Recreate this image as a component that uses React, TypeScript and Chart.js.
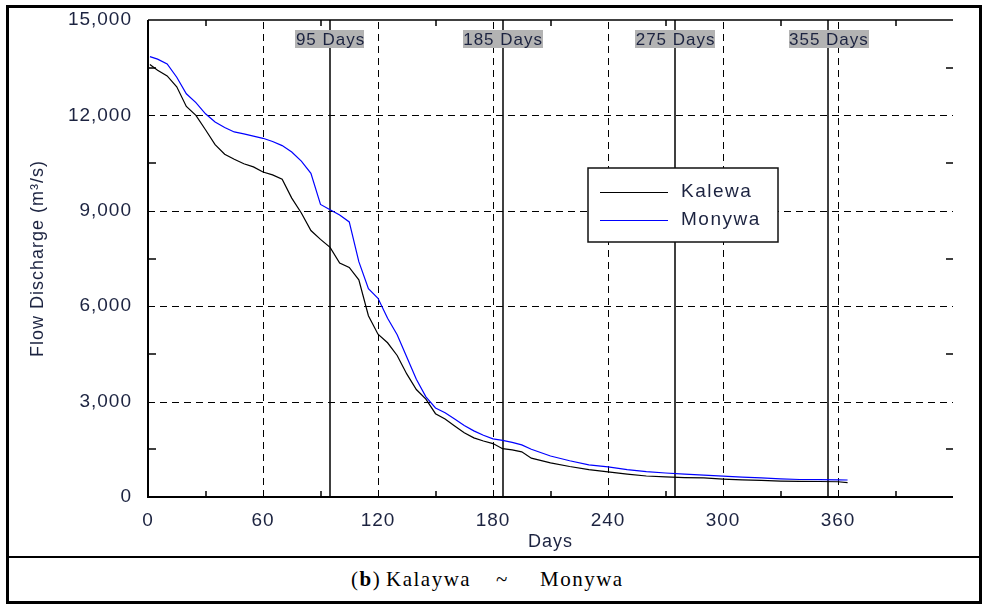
import React, { useEffect, useRef } from "react";
import { Chart, registerables } from "chart.js";

Chart.register(...registerables);

// ---- data ----
const days = [1, 5, 10, 15, 20, 25, 30, 35, 40, 45, 50, 55, 60, 65, 70, 75, 80, 85, 90, 95, 100, 105, 110, 115, 120, 125, 130, 135, 140, 145, 150, 155, 160, 165, 170, 175, 180, 185, 190, 195, 200, 210, 220, 230, 240, 250, 260, 270, 280, 290, 300, 310, 320, 330, 340, 350, 360, 365];
const kalewa = [13600, 13420, 13240, 12900, 12280, 12000, 11550, 11080, 10780, 10620, 10480, 10380, 10220, 10130, 9990, 9400, 8930, 8380, 8100, 7850, 7360, 7220, 6830, 5700, 5120, 4850, 4450, 3870, 3380, 3080, 2620, 2450, 2230, 2020, 1860, 1760, 1680, 1520, 1480, 1420, 1220, 1075, 960, 860, 790, 720, 660, 630, 610, 600, 565, 540, 520, 500, 492, 487, 480, 450];
const monywa = [13850, 13770, 13620, 13200, 12680, 12400, 12050, 11790, 11620, 11480, 11420, 11350, 11280, 11180, 11050, 10850, 10560, 10180, 9200, 9030, 8870, 8650, 7400, 6550, 6250, 5620, 5100, 4400, 3700, 3150, 2800, 2650, 2450, 2250, 2080, 1940, 1830, 1780, 1720, 1640, 1500, 1290, 1140, 1010, 950, 860, 800, 755, 720, 690, 655, 625, 600, 570, 550, 545, 540, 535];
const seriesNames = ["Kalewa", "Monywa"];
const seriesColors = ["#000000", "#0000ff"];
const markerDays = [95, 185, 275, 355];
const markerLabels = ["95 Days", "185 Days", "275 Days", "355 Days"];
const xMax = 420;
const xStep = 60;
const yMax = 15000;
const yStep = 3000;
const yAxisTitle = "Flow Discharge (m\u00b3/s)";
const xAxisTitle = "Days";
const captionParts = ["(b)", "Kalaywa", "~", "Monywa"];

const FONT = '"Liberation Sans", Arial, sans-serif';
const TEXT = "#1c2340";

function seg(ctx: CanvasRenderingContext2D, x1: number, y1: number, x2: number, y2: number) {
  ctx.beginPath();
  ctx.moveTo(x1, y1);
  ctx.lineTo(x2, y2);
  ctx.stroke();
}

const decorPlugin = {
  id: "decor",
  beforeDraw(chart: any) {
    chart.ctx.letterSpacing = "1px";
  },
  beforeDatasetsDraw(chart: any) {
    const { ctx, chartArea: a, scales } = chart;
    const x = scales.x, y = scales.y;
    ctx.save();
    ctx.strokeStyle = "#000";
    ctx.lineWidth = 1;
    ctx.setLineDash([7, 5]);
    for (let v = xStep; v < xMax; v += xStep) {
      const px = Math.round(x.getPixelForValue(v)) + 0.5;
      seg(ctx, px, a.bottom, px, a.top);
    }
    for (let v = yStep; v < yMax; v += yStep) {
      const py = Math.round(y.getPixelForValue(v)) + 0.5;
      seg(ctx, a.left, py, a.right, py);
    }
    ctx.setLineDash([]);
    ctx.lineWidth = 1.5;
    markerDays.forEach((d) => {
      const px = Math.round(x.getPixelForValue(d));
      seg(ctx, px, a.top, px, a.bottom);
    });
    ctx.restore();
  },
  afterDatasetsDraw(chart: any) {
    const { ctx, chartArea: a, scales } = chart;
    const x = scales.x, y = scales.y;
    ctx.save();
    ctx.strokeStyle = "#000";
    ctx.setLineDash([]);
    // frame
    ctx.lineWidth = 2;
    seg(ctx, a.left, a.top, a.left, a.bottom + 1);
    seg(ctx, a.left - 1, a.bottom, a.right, a.bottom);
    ctx.lineWidth = 1.5;
    seg(ctx, a.left, a.top, a.right, a.top);
    // minor ticks
    ctx.lineWidth = 1.5;
    for (let v = xStep / 2; v < xMax; v += xStep) {
      const px = Math.round(x.getPixelForValue(v));
      seg(ctx, px, a.bottom, px, a.bottom - 6);
      seg(ctx, px, a.top, px, a.top + 6);
    }
    for (let v = yStep / 2; v < yMax; v += yStep) {
      const py = Math.round(y.getPixelForValue(v));
      seg(ctx, a.left, py, a.left + 8, py);
      seg(ctx, a.right, py, a.right - 7, py);
    }
    // marker labels
    ctx.font = `17px ${FONT}`;
    ctx.letterSpacing = "1px";
    ctx.textBaseline = "middle";
    ctx.textAlign = "left";
    markerDays.forEach((d, i) => {
      const px = x.getPixelForValue(d);
      const w = ctx.measureText(markerLabels[i]).width;
      const top = a.top + 10;
      ctx.fillStyle = "#b3b3b3";
      ctx.fillRect(Math.round(px - w / 2), top, Math.round(w), 18);
      ctx.fillStyle = TEXT;
      ctx.fillText(markerLabels[i], px - w / 2 + 0.5, top + 10);
    });
    // legend
    const lx = a.left + 440, ly = a.top + 148, lw = 190, lh = 74;
    ctx.fillStyle = "#fff";
    ctx.fillRect(lx, ly, lw, lh);
    ctx.lineWidth = 1.5;
    ctx.strokeStyle = "#111";
    ctx.strokeRect(lx, ly, lw, lh);
    ctx.font = `19px ${FONT}`;
    ctx.letterSpacing = "1.5px";
    seriesNames.forEach((n, i) => {
      const yy = ly + 24 + i * 28;
      ctx.strokeStyle = seriesColors[i];
      ctx.lineWidth = 1.2;
      seg(ctx, lx + 12, yy + 0.5, lx + 80, yy + 0.5);
      ctx.fillStyle = TEXT;
      ctx.fillText(n, lx + 93, yy);
    });
    ctx.restore();
  },
  afterDraw(chart: any) {
    chart.ctx.letterSpacing = "0px";
  },
};

function ChartCanvas() {
  const ref = useRef<HTMLCanvasElement | null>(null);
  useEffect(() => {
    if (!ref.current) return;
    const mk = (vals: number[]) => days.map((d, i) => ({ x: d, y: vals[i] }));
    const chart = new Chart(ref.current, {
      type: "line",
      data: {
        datasets: [
          { label: seriesNames[0], data: mk(kalewa), borderColor: seriesColors[0], borderWidth: 1.2, pointRadius: 0, tension: 0, fill: false },
          { label: seriesNames[1], data: mk(monywa), borderColor: seriesColors[1], borderWidth: 1.2, pointRadius: 0, tension: 0, fill: false },
        ],
      },
      options: {
        responsive: false,
        animation: false,
        events: [],
        layout: { padding: { left: 0, right: 26, top: 12, bottom: 0 } },
        plugins: { legend: { display: false }, tooltip: { enabled: false } },
        scales: {
          x: {
            type: "linear",
            min: 0,
            max: xMax,
            afterFit: (s: any) => { s.height = 59; s.paddingLeft = 0; s.paddingRight = 0; },
            grid: { display: false, drawTicks: false },
            border: { display: false },
            ticks: {
              stepSize: xStep,
              autoSkip: false,
              maxRotation: 0,
              padding: 12,
              color: TEXT,
              font: { family: FONT, size: 19 },
              callback: (v: any) => (v >= xMax ? "" : String(v)),
            },
            title: { display: true, text: xAxisTitle, color: TEXT, font: { family: FONT, size: 18 }, padding: { top: 0, bottom: 3 } },
          },
          y: {
            type: "linear",
            min: 0,
            max: yMax,
            afterFit: (s: any) => { s.width = 139; s.paddingTop = 0; s.paddingBottom = 0; },
            grid: { display: false, drawTicks: false },
            border: { display: false },
            ticks: {
              stepSize: yStep,
              padding: 16,
              color: TEXT,
              font: { family: FONT, size: 19 },
              callback: (v: any) => Number(v).toLocaleString("en-US"),
            },
            title: { display: true, text: yAxisTitle, color: TEXT, font: { family: FONT, size: 18 }, padding: { top: 18, bottom: 0 } },
          },
        },
      },
      plugins: [decorPlugin],
    } as any);
    return () => chart.destroy();
  }, []);
  return <canvas ref={ref} width={970} height={548} style={{ display: "block", width: 970, height: 548 }} />;
}

export default function App() {
  const capStyle: React.CSSProperties = { position: "absolute", top: 0, lineHeight: "43px", whiteSpace: "pre" };
  return (
    <div style={{ position: "absolute", left: 6, top: 5, width: 970, height: 593, border: "3px solid #000", background: "#fff" }}>
      <ChartCanvas />
      <div style={{ position: "relative", height: 43, borderTop: "2px solid #000", fontFamily: '"Liberation Serif", "Times New Roman", serif', fontSize: 21, letterSpacing: "1.5px", color: "#000" }}>
        <span style={{ ...capStyle, left: 342 }}>(<b>b</b>)</span>
        <span style={{ ...capStyle, left: 377 }}>{captionParts[1]}</span>
        <span style={{ ...capStyle, left: 487 }}>{captionParts[2]}</span>
        <span style={{ ...capStyle, left: 531 }}>{captionParts[3]}</span>
      </div>
    </div>
  );
}
